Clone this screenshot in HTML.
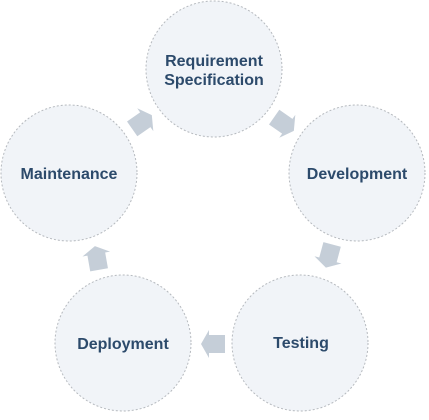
<!DOCTYPE html>
<html><head><style>
html,body{margin:0;padding:0;background:#fff;}
</style></head><body>
<svg width="429" height="415" viewBox="0 0 429 415" xmlns="http://www.w3.org/2000/svg">
<defs>
<polygon id="a" points="-12,-9 4,-9 4,-14 12,0 4,14 4,9 -12,9" fill="#c5ced8"/>
</defs>
<g fill="#f1f4f8" stroke="#b5b9be" stroke-width="1" stroke-dasharray="2,2">
<circle cx="214" cy="69" r="68"/>
<circle cx="357" cy="173" r="68"/>
<circle cx="300" cy="343" r="68"/>
<circle cx="123" cy="343" r="68"/>
<circle cx="69" cy="173" r="68"/>
</g>
<use href="#a" transform="translate(213,344) rotate(180)"/>
<use href="#a" transform="translate(97,258) rotate(-100)"/>
<use href="#a" transform="translate(142,122) rotate(-35)"/>
<use href="#a" transform="translate(284,124) rotate(35)"/>
<use href="#a" transform="translate(329,256) rotate(105)"/>
<g font-family="Liberation Sans, sans-serif" font-weight="bold" font-size="16" fill="#2c4a6b" text-anchor="middle">
<text x="214" y="66">Requirement</text>
<text x="214" y="85">Specification</text>
<text x="357" y="179">Development</text>
<text x="301" y="348">Testing</text>
<text x="123" y="349">Deployment</text>
<text x="69" y="179">Maintenance</text>
</g>
</svg>
</body></html>
